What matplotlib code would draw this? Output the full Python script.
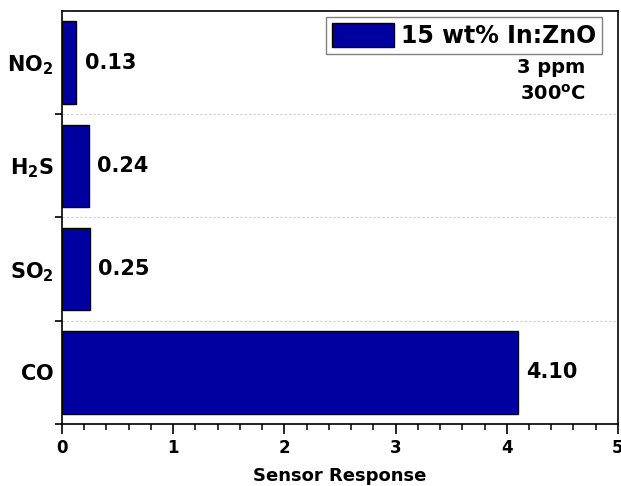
import matplotlib
matplotlib.use("Agg")
import matplotlib.pyplot as plt
from matplotlib.ticker import FixedLocator, MultipleLocator
import numpy as np

plt.rcParams['font.family'] = ['DejaVu Sans']
plt.rcParams['font.weight'] = 'bold'
plt.rcParams['mathtext.fontset'] = 'dejavusans'
plt.rcParams['mathtext.default'] = 'bf'

# gases, bottom to top
gases = [r'$\mathbf{CO}$', r'$\mathbf{SO_2}$', r'$\mathbf{H_2S}$', r'$\mathbf{NO_2}$']
response = [4.10, 0.25, 0.24, 0.13]
series_name = '15 wt% In:ZnO'
conditions = ['3 ppm', r'$\mathbf{300^{o}C}$']

fig = plt.figure(figsize=(6.21, 4.86), dpi=100)
ax = fig.add_axes([0.0998, 0.1276, 0.8953, 0.8498])

ypos = np.arange(len(gases))
ax.barh(ypos, response, height=0.8, color='#0000a0', edgecolor='black',
        linewidth=1.0, label=series_name, zorder=3)

for y, v in zip(ypos, response):
    ax.text(v + 0.075, y, f'{v:.2f}', va='center', ha='left',
            fontsize=15, fontweight='bold')

ax.set_xlim(0, 5)
ax.set_ylim(-0.5, 3.5)

# category boundaries carry the ticks and grid, labels sit at centres
ax.yaxis.set_major_locator(FixedLocator([-0.5, 0.5, 1.5, 2.5]))
ax.yaxis.set_minor_locator(FixedLocator(ypos))
ax.set_yticklabels([], minor=False)
ax.set_yticklabels(gases, minor=True, fontsize=15)
ax.tick_params(axis='y', which='major', direction='out', length=5, width=1.2)
ax.tick_params(axis='y', which='minor', length=0, pad=6)
ax.grid(axis='y', which='major', linestyle=(0, (2, 2)), color='#cccccc',
        linewidth=0.8, zorder=0)

ax.xaxis.set_major_locator(MultipleLocator(1))
ax.xaxis.set_minor_locator(MultipleLocator(0.2))
ax.tick_params(axis='x', which='major', direction='out', length=7, width=1.2,
               labelsize=12, pad=4)
ax.tick_params(axis='x', which='minor', direction='out', length=4, width=1.1)
for lab in ax.get_xticklabels():
    lab.set_fontweight('bold')
ax.set_xlabel('Sensor Response', fontsize=13, fontweight='bold', labelpad=7)

for sp in ax.spines.values():
    sp.set_linewidth(1.2)

leg = ax.legend(loc='upper right', bbox_to_anchor=(0.971, 0.985),
                borderaxespad=0, fontsize=17, handlelength=2.6,
                handleheight=1.15, handletextpad=0.3, borderpad=0.25,
                fancybox=False, framealpha=1, edgecolor='#808080')
leg.get_frame().set_linewidth(1.0)
for t in leg.get_texts():
    t.set_fontweight('bold')

ax.text(0.942, 0.849, conditions[0], transform=ax.transAxes, ha='right',
        va='baseline', fontsize=14, fontweight='bold')
ax.text(0.942, 0.785, conditions[1], transform=ax.transAxes, ha='right',
        va='baseline', fontsize=14, fontweight='bold')

fig.savefig('out.png', dpi=100)
